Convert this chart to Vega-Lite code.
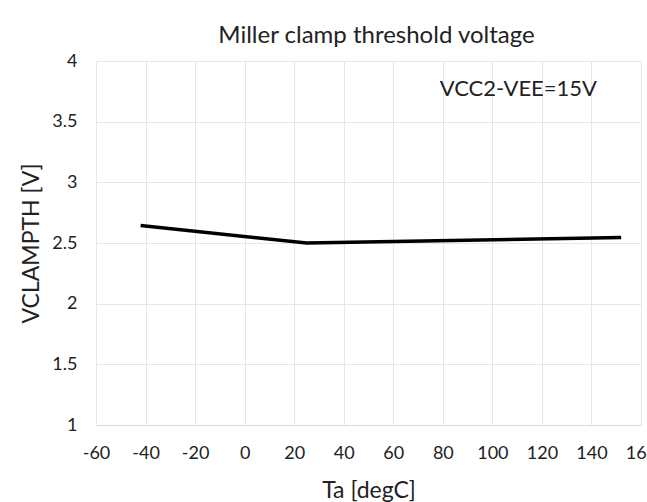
{
  "$schema": "https://vega.github.io/schema/vega-lite/v6.json",
  "autosize": {"type": "none"},
  "width": 545,
  "height": 364,
  "padding": {"left": 96, "top": 61, "right": 6, "bottom": 77},
  "background": "white",
  "config": {
    "font": "Lato",
    "view": {"stroke": null}
  },
  "title": {
    "text": "Miller clamp threshold voltage",
    "fontSize": 24,
    "fontWeight": "normal",
    "color": "#222222",
    "anchor": "middle",
    "dx": 8,
    "offset": 4
  },
  "layer": [
    {
      "data": {
        "values": [
          {"Ta": -42, "V": 2.645},
          {"Ta": 25, "V": 2.5},
          {"Ta": 152, "V": 2.545}
        ]
      },
      "mark": {"type": "line", "color": "black", "strokeWidth": 3.5, "clip": false},
      "encoding": {
        "x": {
          "field": "Ta",
          "type": "quantitative",
          "scale": {"domain": [-60, 160], "nice": false, "zero": false},
          "axis": {
            "title": "Ta [degC]",
            "titleFontSize": 23,
            "titleFontWeight": "normal",
            "titleColor": "#222222",
            "titlePadding": 17,
            "values": [-60, -50, -40, -30, -20, -10, 0, 10, 20, 30, 40, 50, 60, 70, 80, 90, 100, 110, 120, 130, 140, 150, 160],
            "labelExpr": "datum.value % 20 === 0 ? '' + datum.value : ''",
            "labelFontSize": 18,
            "labelColor": "#222222",
            "labelPadding": 19,
            "labelOverlap": false,
            "labelBound": false,
            "labelFlush": false,
            "ticks": false,
            "domain": true,
            "domainColor": "#d9d9d9",
            "domainWidth": 1,
            "grid": true,
            "gridColor": "#e6e6e6",
            "gridWidth": 1
          }
        },
        "y": {
          "field": "V",
          "type": "quantitative",
          "scale": {"domain": [1, 4], "nice": false, "zero": false},
          "axis": {
            "title": "VCLAMPTH [V]",
            "titleFontSize": 23,
            "titleFontWeight": "normal",
            "titleColor": "#222222",
            "titlePadding": 8,
            "values": [1, 1.5, 2, 2.5, 3, 3.5, 4],
            "format": "~g",
            "labelFontSize": 18,
            "labelColor": "#222222",
            "labelPadding": 19,
            "ticks": false,
            "domain": false,
            "grid": true,
            "gridColor": "#e6e6e6",
            "gridWidth": 1
          }
        }
      }
    },
    {
      "data": {"values": [{"Ta": 110.5, "V": 3.77, "label": "VCC2-VEE=15V"}]},
      "mark": {"type": "text", "fontSize": 22, "color": "#222222", "align": "center", "baseline": "middle"},
      "encoding": {
        "x": {"field": "Ta", "type": "quantitative"},
        "y": {"field": "V", "type": "quantitative"},
        "text": {"field": "label"}
      }
    }
  ]
}
